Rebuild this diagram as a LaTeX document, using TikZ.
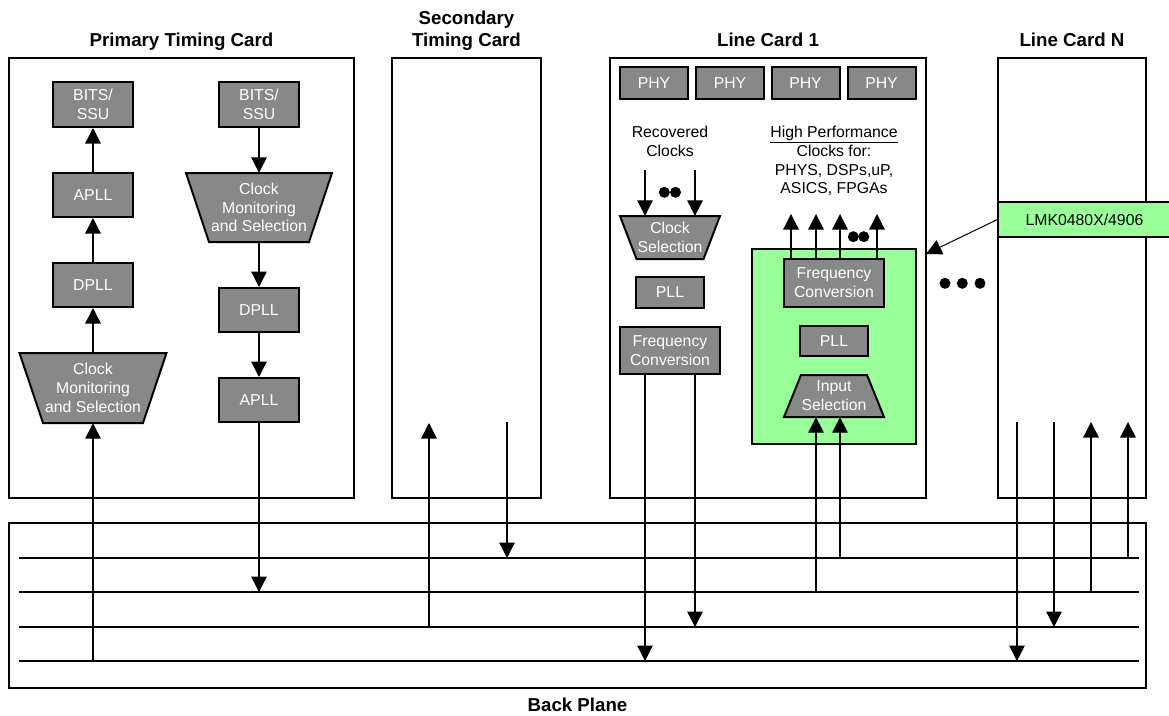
\documentclass[tikz,border=0pt]{standalone}
\usepackage{fontspec}
\setmainfont{Liberation Sans}
\usetikzlibrary{arrows.meta,calc}
\definecolor{blkgray}{HTML}{888888}
\definecolor{lmkgreen}{HTML}{99FF99}
\newcommand\blkfont{\fontsize{15.8}{18.8}\selectfont}
\newcommand\ttlfont{\fontsize{18.7}{22}\selectfont\bfseries}
\begin{document}
\begin{tikzpicture}[x=1pt,y=-1pt,
  card/.style={draw, line width=2.3pt, inner sep=0pt},
  blk/.style={draw, fill=blkgray, line width=2pt, text=white, font=\blkfont, align=center, inner sep=0pt},
  trapz/.style={draw, fill=blkgray, line width=2pt, line join=miter},
  ttext/.style={text=white, font=\blkfont, align=center, inner sep=0pt},
  lbl/.style={font=\blkfont, align=center, inner sep=0pt},
  title/.style={font=\ttlfont, anchor=base, inner sep=0pt},
  conn/.style={line width=1.3pt, -{Triangle[width=15.5pt,length=15.5pt]}},
  bus/.style={line width=1.5pt},
  dotf/.style={fill=black}
]
\useasboundingbox (0,0) rectangle (1169,715);

% ---------------- cards ----------------
\node[card, minimum width=345pt, minimum height=440pt] (ptc) at (181.5,278) {};
\node[card, minimum width=149pt, minimum height=440pt] (stc) at (466.5,278) {};
\node[card, minimum width=316pt, minimum height=440pt] (lc1) at (768,278) {};
\node[card, minimum width=148pt, minimum height=440pt] (lcn) at (1072,278) {};
\node[card, minimum width=1137pt, minimum height=165pt] (bp) at (577.5,605.5) {};

% titles
\node[title] (tptc) at (181.5,46) {Primary Timing Card};
\node[title] (tstc1) at (466.5,24) {Secondary};
\node[title] (tstc2) at (466.5,46) {Timing Card};
\node[title] (tlc1) at (768,46) {Line Card 1};
\node[title] (tlcn) at (1072,46) {Line Card N};
\node[title] (tbp) at (577.5,711.5) {Back Plane};

% ---------------- back plane buses ----------------
\coordinate (b1w) at (19,558);  \coordinate (b1e) at (1139,558);
\coordinate (b2w) at (19,592);  \coordinate (b2e) at (1139,592);
\coordinate (b3w) at (19,627);  \coordinate (b3e) at (1139,627);
\coordinate (b4w) at (19,661);  \coordinate (b4e) at (1139,661);
\draw[bus] (b1w) -- (b1e);
\draw[bus] (b2w) -- (b2e);
\draw[bus] (b3w) -- (b3e);
\draw[bus] (b4w) -- (b4e);

% ---------------- primary timing card, left column ----------------
\node[blk, minimum width=80pt, minimum height=45pt] (bits1) at (93,104.5) {BITS/\\SSU};
\node[blk, minimum width=80pt, minimum height=44pt] (apll1) at (93,195) {APLL};
\node[blk, minimum width=80pt, minimum height=44pt] (dpll1) at (93,285) {DPLL};
\draw[trapz] (19.5,353) -- (166.5,353) -- (143,423) -- (43,423) -- cycle;
\node[ttext, minimum width=147pt, minimum height=70pt] (cms1) at (93,388) {Clock\\Monitoring\\and Selection};
\draw[conn] (cms1.north) -- (dpll1.south);
\draw[conn] (dpll1.north) -- (apll1.south);
\draw[conn] (apll1.north) -- (bits1.south);
\coordinate (tA) at (93,661);
\draw[conn] (tA) -- (cms1.south);

% ---------------- primary timing card, right column ----------------
\node[blk, minimum width=80pt, minimum height=45pt] (bits2) at (259,104.5) {BITS/\\SSU};
\draw[trapz] (186,173) -- (332,173) -- (309,242) -- (209,242) -- cycle;
\node[ttext, minimum width=146pt, minimum height=69pt] (cms2) at (259,207.5) {Clock\\Monitoring\\and Selection};
\node[blk, minimum width=80pt, minimum height=44pt] (dpll2) at (259,310) {DPLL};
\node[blk, minimum width=80pt, minimum height=44pt] (apll2) at (259,400) {APLL};
\draw[conn] (bits2.south) -- (cms2.north);
\draw[conn] (cms2.south) -- (dpll2.north);
\draw[conn] (dpll2.south) -- (apll2.north);
\coordinate (tB) at (259,592);
\draw[conn] (apll2.south) -- (tB);

% ---------------- secondary timing card ----------------
\coordinate (s1top) at (429,423); \coordinate (s1bot) at (429,627);
\draw[conn] (s1bot) -- (s1top);
\coordinate (s2top) at (507,422); \coordinate (s2bot) at (507,558);
\draw[conn] (s2top) -- (s2bot);

% ---------------- line card 1 ----------------
\node[blk, minimum width=68pt, minimum height=32pt] (phy1) at (654,83) {PHY};
\node[blk, minimum width=68pt, minimum height=32pt] (phy2) at (730,83) {PHY};
\node[blk, minimum width=68pt, minimum height=32pt] (phy3) at (805.5,83) {PHY};
\node[blk, minimum width=68pt, minimum height=32pt] (phy4) at (881.5,83) {PHY};

\node[lbl] (rec) at (670,141.5) {Recovered\\Clocks};
\draw[trapz] (620,216) -- (720,216) -- (703.5,259) -- (636.5,259) -- cycle;
\node[ttext, minimum width=100pt, minimum height=43pt] (csel) at (670,237.5) {Clock\\Selection};
\coordinate (rc1) at (645,170); \coordinate (rc2) at (695,170);
\draw[conn] (rc1) -- (csel.north -| rc1);
\draw[conn] (rc2) -- (csel.north -| rc2);
\fill[dotf] (664.3,192.3) circle (5.5pt);
\fill[dotf] (675.5,192.3) circle (5.5pt);

\node[blk, minimum width=68pt, minimum height=31pt] (pll1) at (670,292.5) {PLL};
\node[blk, minimum width=100pt, minimum height=47pt] (fc1) at (670,350.5) {Frequency\\Conversion};
\coordinate (tC) at (645,661); \coordinate (tD) at (695,627);
\draw[conn] (fc1.south -| tC) -- (tC);
\draw[conn] (fc1.south -| tD) -- (tD);

\node[lbl] (hpc) at (834,161) {\underline{High Performance}\\Clocks for:\\PHYS, DSPs,uP,\\ASICS, FPGAs};

\node[draw, fill=lmkgreen, line width=2pt, minimum width=164pt, minimum height=195pt, inner sep=0pt] (grn) at (834,346.5) {};
\node[blk, minimum width=100pt, minimum height=48pt] (fc2) at (834,283) {Frequency\\Conversion};
\node[blk, minimum width=68pt, minimum height=30pt] (pll2) at (834,341) {PLL};
\draw[trapz] (801,375) -- (867,375) -- (884,417) -- (784,417) -- cycle;
\node[ttext, minimum width=100pt, minimum height=42pt] (isel) at (834,396) {Input\\Selection};

\coordinate (o1) at (791,214); \coordinate (o2) at (816,214);
\coordinate (o3) at (840,214); \coordinate (o4) at (877,214);
\draw[conn] (fc2.north -| o1) -- (o1);
\draw[conn] (fc2.north -| o2) -- (o2);
\draw[conn] (fc2.north -| o3) -- (o3);
\draw[conn] (fc2.north -| o4) -- (o4);
\fill[dotf] (853.3,236.7) circle (5.5pt);
\fill[dotf] (863.8,236.7) circle (5.5pt);

\coordinate (tE) at (816,592); \coordinate (tF) at (840,558);
\draw[conn] (tE) -- (isel.south -| tE);
\draw[conn] (tF) -- (isel.south -| tF);

% ---------------- line card N ----------------
\coordinate (n1t) at (1017,422); \coordinate (n1b) at (1017,661);
\coordinate (n2t) at (1054,422); \coordinate (n2b) at (1054,627);
\coordinate (n3t) at (1091,422); \coordinate (n3b) at (1091,592);
\coordinate (n4t) at (1128,422); \coordinate (n4b) at (1128,558);
\draw[conn] (n1t) -- (n1b);
\draw[conn] (n2t) -- (n2b);
\draw[conn] (n3b) -- (n3t);
\draw[conn] (n4b) -- (n4t);

% dots between line cards
\fill[dotf] (945,283.3) circle (5.5pt);
\fill[dotf] (962.3,283.3) circle (5.5pt);
\fill[dotf] (980,283.3) circle (5.5pt);

% ---------------- LMK label ----------------
\node[draw, fill=lmkgreen, line width=1.2pt, minimum width=173pt, minimum height=35pt, font=\blkfont, inner sep=0pt] (lmk) at (1084.5,219.5) {LMK0480X/4906};
\coordinate (lmktip) at (926,254);
\draw[conn, line width=1pt] (lmk.west) -- (lmktip);

\end{tikzpicture}
\end{document}
